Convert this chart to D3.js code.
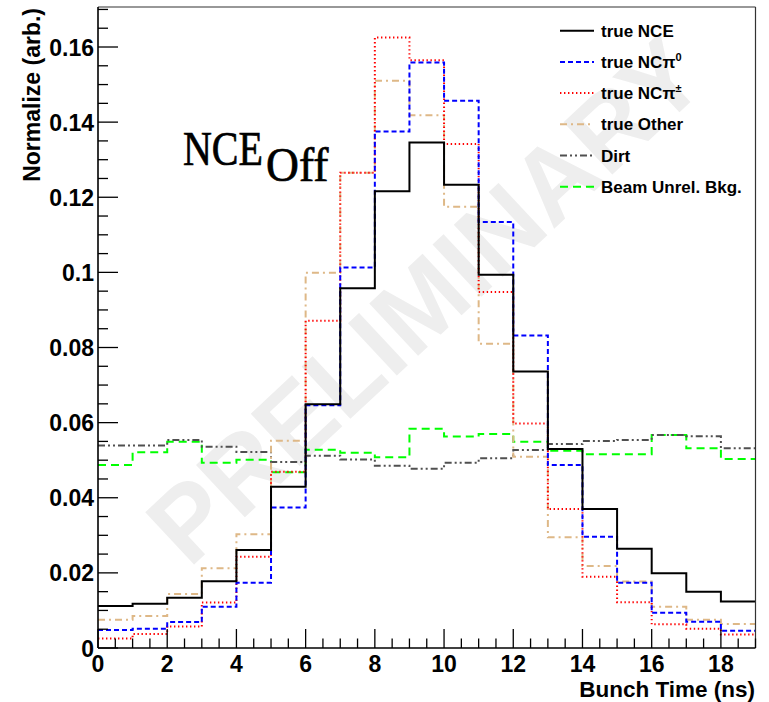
<!DOCTYPE html>
<html>
<head>
<meta charset="utf-8">
<script src="https://cdn.jsdelivr.net/npm/d3@7"></script>
<style>
  html, body { margin: 0; padding: 0; background: #fff; }
  svg { display: block; }
</style>
</head>
<body>
<svg id="chart" width="769" height="702"></svg>
<script>
// ---- data ----
const binEdges = d3.range(0, 20); // 0..19, width 1
const trueNCE   = [0.0112, 0.0118, 0.0134, 0.0178, 0.0261, 0.0429, 0.0649, 0.0958, 0.1216, 0.1346, 0.1233, 0.0994, 0.0736, 0.0530, 0.0370, 0.0264, 0.0199, 0.0150, 0.0124];
const trueNCpi0 = [0.0048, 0.0051, 0.0069, 0.0110, 0.0174, 0.0374, 0.0646, 0.1013, 0.1375, 0.1559, 0.1457, 0.1134, 0.0832, 0.0487, 0.0296, 0.0174, 0.0094, 0.0070, 0.0046];
const trueNCpipm= [0.0025, 0.0037, 0.0057, 0.0121, 0.0243, 0.0469, 0.0871, 0.1265, 0.1625, 0.1565, 0.1342, 0.0948, 0.0598, 0.0370, 0.0190, 0.0122, 0.0063, 0.0051, 0.0036];
const trueOther = [0.0075, 0.0085, 0.0144, 0.0212, 0.0303, 0.0552, 0.0999, 0.1265, 0.1510, 0.1418, 0.1175, 0.0810, 0.0509, 0.0295, 0.0218, 0.0177, 0.0110, 0.0075, 0.0064];
const dirt      = [0.0539, 0.0539, 0.0554, 0.0536, 0.0522, 0.0495, 0.0512, 0.0502, 0.0485, 0.0477, 0.0493, 0.0505, 0.0527, 0.0543, 0.0551, 0.0554, 0.0567, 0.0564, 0.0532];
const beamUnrel = [0.0487, 0.0521, 0.0549, 0.0493, 0.0501, 0.0468, 0.0528, 0.0520, 0.0508, 0.0584, 0.0563, 0.0570, 0.0549, 0.0525, 0.0516, 0.0516, 0.0567, 0.0532, 0.0503];
const xTickLabels = ["0", "2", "4", "6", "8", "10", "12", "14", "16", "18"];
const yTickLabels = ["0", "0.02", "0.04", "0.06", "0.08", "0.1", "0.12", "0.14", "0.16"];

const seriesDefs = [
  { name: "true NCE",   sup: null,  values: trueNCE,    color: "#000000", dash: null },
  { name: "true NC\u03C0", sup: "0", values: trueNCpi0,  color: "#0000ff", dash: "5,3" },
  { name: "true NC\u03C0", sup: "\u00B1", values: trueNCpipm, color: "#ff0000", dash: "1.4,2.6" },
  { name: "true Other", sup: null,  values: trueOther,  color: "#deb887", dash: "7,4,2,4" },
  { name: "Dirt",       sup: null,  values: dirt,       color: "#505050", dash: "7,3,2,3,2,3" },
  { name: "Beam Unrel. Bkg.", sup: null, values: beamUnrel, color: "#00ff00", dash: "8,5" }
];

// ---- layout ----
const svg = d3.select("#chart");
const X0 = 98, X1 = 755.5, Y0 = 648, Y1 = 7;
const x = d3.scaleLinear().domain([0, 19]).range([X0, X1]);
const y = d3.scaleLinear().domain([0, 0.17065]).range([Y0, Y1]);

// watermark
svg.append("text")
  .attr("transform", "translate(425,300) rotate(-43)")
  .attr("text-anchor", "middle")
  .attr("dominant-baseline", "central")
  .style("font-family", "'Liberation Sans', Arial, sans-serif")
  .style("font-weight", "bold")
  .style("font-size", "104px")
  .style("fill", "#eeeeee")
  .text("PRELIMINARY");

// histograms
const line = d3.line()
  .x(d => x(d[0]))
  .y(d => y(d[1]))
  .curve(d3.curveStepAfter);

// draw in reverse so NCE ends on top
[...seriesDefs].reverse().forEach(s => {
  const pts = s.values.map((v, i) => [binEdges[i], v]);
  pts.push([binEdges[s.values.length], s.values[s.values.length - 1]]);
  svg.append("path")
    .attr("d", line(pts))
    .attr("fill", "none")
    .attr("stroke", s.color)
    .attr("stroke-width", 2)
    .attr("stroke-dasharray", s.dash);
});

// frame
svg.append("line").attr("x1", X0).attr("x2", X1).attr("y1", Y1).attr("y2", Y1)
  .attr("stroke", "#333").attr("stroke-width", 1.2);
svg.append("line").attr("x1", X1).attr("x2", X1).attr("y1", Y1).attr("y2", Y0)
  .attr("stroke", "#333").attr("stroke-width", 1.2);

// x axis
const gx = svg.append("g").attr("transform", `translate(0,${Y0})`);
gx.append("line").attr("x1", X0).attr("x2", X1).attr("stroke", "#000").attr("stroke-width", 1.6);
d3.range(0, 19.01, 0.5).forEach(t => {
  const major = Math.abs(t % 2) < 1e-9;
  gx.append("line").attr("x1", x(t)).attr("x2", x(t))
    .attr("y1", 0).attr("y2", major ? -19 : -9.5)
    .attr("stroke", "#000").attr("stroke-width", 1.3);
});
xTickLabels.forEach((lab, i) => {
  gx.append("text").attr("x", x(i * 2)).attr("y", 23.5)
    .attr("text-anchor", "middle")
    .style("font-family", "'Liberation Sans', Arial, sans-serif")
    .style("font-weight", "bold").style("font-size", "23px")
    .text(lab);
});
svg.append("text").attr("x", 755).attr("y", 697)
  .attr("text-anchor", "end")
  .style("font-family", "'Liberation Sans', Arial, sans-serif")
  .style("font-weight", "bold").style("font-size", "22.5px")
  .text("Bunch Time (ns)");

// y axis
const gy = svg.append("g").attr("transform", `translate(${X0},0)`);
gy.append("line").attr("y1", Y0).attr("y2", Y1).attr("stroke", "#000").attr("stroke-width", 1.6);
d3.range(0, 0.1701, 0.005).forEach(t => {
  const k = Math.round(t / 0.005);
  const major = k % 4 === 0;
  gy.append("line").attr("y1", y(t)).attr("y2", y(t))
    .attr("x1", 0).attr("x2", major ? 20 : 10)
    .attr("stroke", "#000").attr("stroke-width", 1.3);
});
yTickLabels.forEach((lab, i) => {
  gy.append("text").attr("x", -4).attr("y", y(i * 0.02) + 8.5)
    .attr("text-anchor", "end")
    .style("font-family", "'Liberation Sans', Arial, sans-serif")
    .style("font-weight", "bold").style("font-size", "23px")
    .text(lab);
});
svg.append("text")
  .attr("transform", "translate(40,8) rotate(-90)")
  .attr("text-anchor", "end")
  .style("font-family", "'Liberation Sans', Arial, sans-serif")
  .style("font-weight", "bold").style("font-size", "23px")
  .text("Normalize (arb.)");

// NCE_Off label (main text + lowered subscript)
svg.append("text")
  .attr("transform", "translate(183,165) scale(0.833,1)")
  .style("font-family", "'Liberation Serif', 'Times New Roman', serif")
  .style("font-size", "48px")
  .style("fill", "#000").style("stroke", "#000").style("stroke-width", 0.7)
  .text("NCE");
svg.append("text")
  .attr("transform", "translate(266,181) scale(0.95,1)")
  .style("font-family", "'Liberation Serif', 'Times New Roman', serif")
  .style("font-size", "48px")
  .style("fill", "#000").style("stroke", "#000").style("stroke-width", 0.7)
  .text("Off");

// legend
const lg = svg.append("g");
seriesDefs.forEach((s, i) => {
  const cy = 30.7 + i * 31.2;
  lg.append("line").attr("x1", 560).attr("x2", 594).attr("y1", cy).attr("y2", cy)
    .attr("stroke", s.color).attr("stroke-width", 2)
    .attr("stroke-dasharray", s.dash);
  const t = lg.append("text").attr("x", 601).attr("y", cy + 6)
    .style("font-family", "'Liberation Sans', Arial, sans-serif")
    .style("font-weight", "bold").style("font-size", "17px");
  t.append("tspan").text(s.name);
  if (s.sup) {
    t.append("tspan").attr("dy", -7).style("font-size", "11px").text(s.sup);
  }
});
</script>
</body>
</html>
